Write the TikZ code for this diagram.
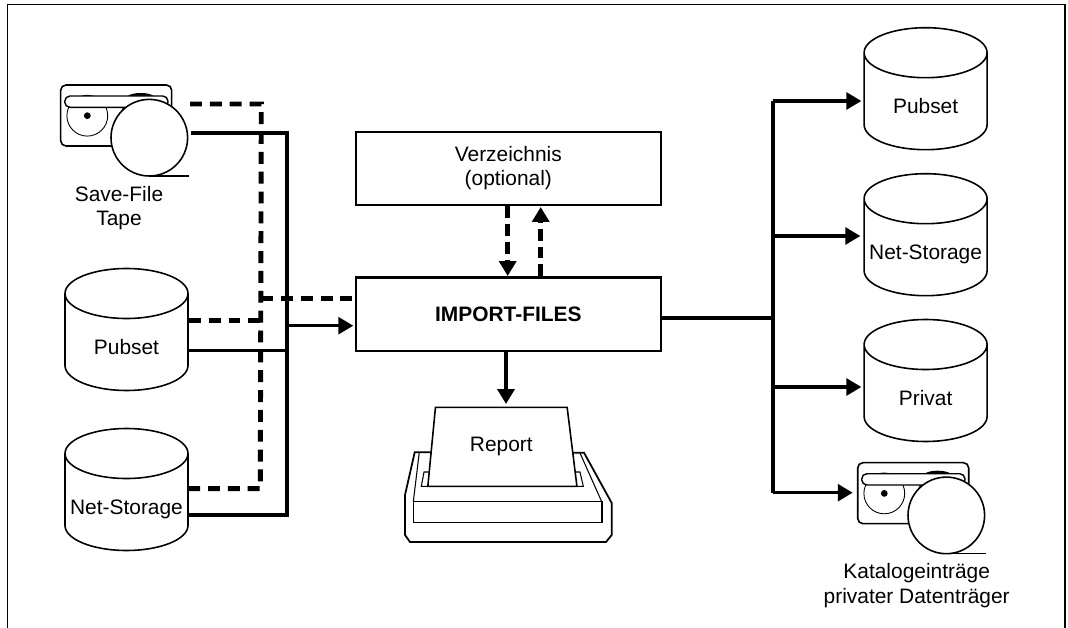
\documentclass[tikz,border=0pt]{standalone}
\usepackage{fontspec}
\setmainfont{Liberation Sans}
\usepackage{tikz}
\usetikzlibrary{shapes.geometric, arrows.meta, positioning, calc}

\newcommand{\disktxt}[1]{\makebox[2.46cm]{\raisebox{-7pt}[0pt][0pt]{#1}}}

\tikzset{
  txt/.style={font=\fontsize{11.9}{14}\selectfont, align=center},
  disk/.style={cylinder, draw, line width=0.9pt, txt, shape border rotate=90, shape aspect=0.4065,
    minimum width=2.46cm, minimum height=2.44cm, inner sep=0pt, anchor=shape center},
  box/.style={draw, line width=1.2pt, txt, minimum width=6.1cm, inner sep=0pt},
  bus/.style={line width=2.3pt, line cap=butt},
  feed/.style={line width=1.8pt},
  dashln/.style={line width=2.8pt, dash pattern=on 6.8pt off 4.5pt},
  tip/.style={-{Triangle[length=8.5pt, width=9.6pt]}},
  tape/.pic={
    \draw [line width=0.9pt, rounded corners=3pt] (0,0) rectangle (111,61);
    \fill (62.3,22) -- (51,50) -- (89,50) -- (89,22) -- cycle;
    \fill (67,11) .. controls (72,7) and (88,7) .. (93,11) -- cycle;
    \draw [line width=0.5pt] (26.6,30.7) circle (20.4);
    \fill (26.6,30.7) circle (3.4);
    \draw [line width=0.8pt, fill=white, rounded corners=3pt] (4,11) rectangle (107.3,22.3);
    \draw [line width=0.9pt, fill=white] (88.6,52.7) circle (38.3);
    \draw [line width=0.9pt] (88,91) -- (128.3,91);
    \coordinate (-out) at (130.3,48.3);
    \coordinate (-dash) at (129.3,19);
    \coordinate (-in) at (-5,30);
  }
}

\begin{document}
\begin{tikzpicture}[x=0.02cm, y=-0.02cm]
  \useasboundingbox (0,0) rectangle (1068,628);
  \draw [line width=0.8pt] (7.3,628) -- (7.3,4.3) -- (1065,4.3) -- (1065,628);

  % sources
  \pic (tapeL) at (60.7,85) {tape};
  \node [txt] (saveL) at (119,208) {Save-File\\Tape};
  \node [disk] (pubL) at (126.5,329.5) {\disktxt{Pubset}};
  \node [disk] (netL) at (126.5,489.5) {\disktxt{Net-Storage}};

  % middle
  \node [box, minimum height=1.46cm] (verz) at (508.3,168.2) {Verzeichnis\\(optional)};
  \node [box, minimum height=1.47cm] (imp) at (508.3,314.2) {\textbf{IMPORT-FILES}};

  % printer
  \draw [line width=1pt] (431.7,452.3) -- (414.7,452.3) -- (405,495) -- (405,535) -- (410,542)
    -- (606,542) -- (611.7,535) -- (611.7,503) -- (584,452.7) -- (569.3,452.7);
  \draw [line width=0.6pt] (419.3,452.3) -- (413.3,501.7);
  \draw [line width=0.6pt] (580,453) -- (601.7,501.7);
  \draw [line width=0.7pt] (413.3,501.7) rectangle (602,522.7);
  \draw [line width=0.6pt] (430,472) -- (424,472) -- (421.3,486.3) -- (583.3,486.3) -- (580,472) -- (573,472);
  \node [trapezium, draw, fill=white, line width=0.9pt, txt, trapezium stretches=true,
    trapezium left angle=79, trapezium right angle=76, minimum width=2.985cm, minimum height=1.58cm,
    inner sep=0pt] (rep) at (501.3,446.8) {Report};

  % targets
  \node [disk] (pubR) at (925.6,88.7) {\disktxt{Pubset}};
  \node [disk] (netR) at (925.6,234.7) {\disktxt{Net-Storage}};
  \node [disk] (priR) at (925.6,380.5) {\disktxt{Privat}};
  \pic (tapeR) at (857.7,462.7) {tape};
  \node [txt] (katR) at (916.7,585.7) {Katalogeinträge\\privater Datenträger};

  % junctions
  \coordinate (railT) at (287,133.3);
  \coordinate (railB) at (287,515);
  \coordinate (railP) at (287,350.7);
  \coordinate (railI) at (287,325.7);
  \coordinate (dashT) at (261.3,104);
  \coordinate (dashB) at (260.3,488.7);
  \coordinate (dashP) at (261,320.7);
  \coordinate (dashI) at (261,298.7);
  \coordinate (busT) at (772.7,101);
  \coordinate (busN) at (772.7,236);
  \coordinate (busP) at (772.7,387);
  \coordinate (busB) at (772.7,492.7);
  \coordinate (busO) at (775,317.7);
  \coordinate (upA) at (540.7,207);
  \coordinate (dnA) at (507.7,276);
  \coordinate (repA) at (506,404);

  % left side
  \draw [dashln] (tapeL-dash) -- (dashT) -- (dashB) -- (netL.east |- dashB);
  \draw [dashln] (pubL.east |- dashP) -- (dashP);
  \draw [dashln] (dashI) -- (imp.west |- dashI);
  \draw [bus] (tapeL-out) -- (railT) -- (railB) -- (netL.east |- railB);
  \draw [feed] (pubL.east |- railP) -- (railP);
  \draw [feed, tip] (railI) -- ($(imp.west |- railI)+(-1.5,0)$);

  % middle arrows
  \draw [dashln, tip, dash pattern=on 6.8pt off 3.4pt] (verz.south -| dnA) -- (dnA);
  \draw [dashln, tip, dash pattern=on 6.8pt off 3.4pt] (imp.north -| upA) -- (upA);
  \draw [feed, line width=2.3pt, tip] (imp.south -| repA) -- (repA);

  % right side
  \draw [feed, line width=2.2pt] (imp.east |- busO) -- (busO);
  \draw [bus] (busT) -- (busB);
  \draw [feed, tip] (busT) -- ($(pubR.west |- busT)+(-2,0)$);
  \draw [feed, tip] (busN) -- ($(netR.west |- busN)+(-3,0)$);
  \draw [feed, tip] (busP) -- ($(priR.west |- busP)+(-2,0)$);
  \draw [feed, tip] (busB) -- (tapeR-in);
\end{tikzpicture}
\end{document}
